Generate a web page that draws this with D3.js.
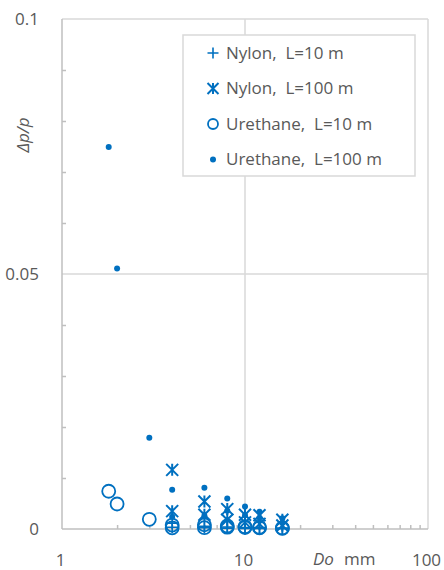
<!DOCTYPE html>
<html lang="en">
<head>
<meta charset="utf-8">
<title>Pressure loss vs tube diameter</title>
<script src="https://cdn.jsdelivr.net/npm/d3@7"></script>
<style>
  body { margin: 0; background: #fff; }
  svg text { font-family: "Open Sans", "Noto Sans", sans-serif; fill: #595959; white-space: pre; }
</style>
</head>
<body>
<svg id="chart" width="444" height="570"></svg>
<script>
// outer diameters, mm
var nylonDo = [4, 4, 6, 6, 8, 8, 10, 10, 12, 12, 16, 16];
var nylon10 = [0.00116, 0.00035, 0.00054, 0.00027, 0.00039, 0.00018, 0.00028, 0.00013, 0.00027, 0.0001, 0.00018, 0.00007];
var nylon100 = [0.0116, 0.0035, 0.0054, 0.0028, 0.0039, 0.0018, 0.0028, 0.0013, 0.0027, 0.0010, 0.0018, 0.0007];

var urethaneDo = [1.8, 2, 3, 4, 4, 6, 6, 8, 8, 10, 10, 12, 12, 16, 16];
var urethane10 = [0.0074, 0.0049, 0.0019, 0.00077, 0.00024, 0.00081, 0.00026, 0.0006, 0.00036, 0.00044, 0.00027, 0.00034, 0.00022, 0.00021, 0.00012];
var urethane100 = [0.0749, 0.0511, 0.0179, 0.0077, 0.0024, 0.0081, 0.0026, 0.0060, 0.0036, 0.0044, 0.0027, 0.0034, 0.0022, 0.0021, 0.0012];

var xMajor = [1, 10, 100];
var xMinor = [2, 3, 4, 5, 6, 7, 8, 9, 20, 30, 40, 50, 60, 70, 80, 90];
var yMajor = [0, 0.05, 0.1];
var yMinor = [0.01, 0.02, 0.03, 0.04, 0.06, 0.07, 0.08, 0.09];
var seriesNames = ['Nylon,  L=10 m', 'Nylon,  L=100 m', 'Urethane,  L=10 m', 'Urethane,  L=100 m'];

var blue = '#0070C0';
var margin = {top: 19, right: 16, bottom: 41, left: 62};
var svg = d3.select('#chart');
var W = 444 - margin.left - margin.right, H = 570 - margin.top - margin.bottom;
var g = svg.append('g').attr('transform', 'translate(' + margin.left + ',' + margin.top + ')');

var x = d3.scaleLog().domain([1, 100]).range([0, W]);
var y = d3.scaleLinear().domain([0, 0.1]).range([H, 0]);

// gridlines
g.append('g').selectAll('line').data(yMajor.slice(1)).join('line')
  .attr('x1', 0).attr('x2', W).attr('y1', y).attr('y2', y)
  .attr('stroke', '#d9d9d9').attr('stroke-width', 1.5);
g.append('g').selectAll('line').data(xMajor.slice(1)).join('line')
  .attr('x1', x).attr('x2', x).attr('y1', 0).attr('y2', H)
  .attr('stroke', '#d9d9d9').attr('stroke-width', 1.5);

// minor ticks (inside)
g.append('g').attr('transform', 'translate(0,' + H + ')')
  .call(d3.axisBottom(x).tickValues(xMinor).tickSize(-4).tickFormat(''))
  .call(function(a) { a.select('.domain').remove(); a.selectAll('line').attr('stroke', '#bfbfbf').attr('stroke-width', 1.5); });
g.append('g')
  .call(d3.axisLeft(y).tickValues(yMinor).tickSize(-4).tickFormat(''))
  .call(function(a) { a.select('.domain').remove(); a.selectAll('line').attr('stroke', '#bfbfbf').attr('stroke-width', 1.5); });

// axis lines
g.append('line').attr('x1', 0).attr('x2', W).attr('y1', H).attr('y2', H).attr('stroke', '#bfbfbf').attr('stroke-width', 1.5);
g.append('line').attr('x1', 0).attr('x2', 0).attr('y1', 0).attr('y2', H).attr('stroke', '#bfbfbf').attr('stroke-width', 1.5);

// tick labels
g.append('g').attr('transform', 'translate(-20,0)')
  .call(d3.axisLeft(y).tickValues(yMajor).tickSize(0).tickFormat(function(d) { return d === 0 ? '0' : String(d); }))
  .call(function(a) { a.select('.domain').remove(); a.selectAll('text').attr('font-size', 17).attr('fill', '#595959').attr('font-family', null); });
g.append('g').attr('transform', 'translate(0,' + (H + 22) + ')')
  .call(d3.axisBottom(x).tickValues(xMajor).tickSize(0).tickFormat(d3.format('d')))
  .call(function(a) { a.select('.domain').remove(); a.selectAll('text').attr('font-size', 17).attr('fill', '#595959').attr('font-family', null).attr('dx', -2); });

// axis titles
svg.append('text').attr('transform', 'translate(29,135) rotate(-90)')
  .attr('text-anchor', 'middle').attr('font-size', 17).attr('font-style', 'italic').text('\u0394p/p');
var xt = svg.append('text').attr('x', 313).attr('y', 565).attr('font-size', 17);
xt.append('tspan').attr('font-style', 'italic').text('Do');
xt.append('tspan').attr('dx', 10).text('mm');

// markers
function plus(sel, s) {
  sel.append('path').attr('d', 'M' + (-s) + ',0H' + s + 'M0,' + (-s) + 'V' + s)
    .attr('stroke', blue).attr('stroke-width', 1.6).attr('fill', 'none');
}
function star(sel, s) {
  sel.append('path').attr('d', 'M' + (-s) + ',' + (-s) + 'L' + s + ',' + s + 'M' + s + ',' + (-s) + 'L' + (-s) + ',' + s + 'M0,' + (-s) + 'V' + s)
    .attr('stroke', blue).attr('stroke-width', 2).attr('fill', 'none');
}
function ring(sel, r) {
  sel.append('circle').attr('r', r).attr('fill', 'none').attr('stroke', blue).attr('stroke-width', 1.8);
}
function dot(sel, r) {
  sel.append('circle').attr('r', r).attr('fill', blue);
}

function series(xs, ys, draw, size) {
  g.append('g').selectAll('g').data(xs.map(function(d, i) { return [d, ys[i]]; })).join('g')
    .attr('transform', function(d) { return 'translate(' + x(d[0]) + ',' + y(d[1]) + ')'; })
    .each(function() { draw(d3.select(this), size); });
}
series(nylonDo, nylon10, plus, 6);
series(nylonDo, nylon100, star, 6);
series(urethaneDo, urethane10, ring, 6.5);
series(urethaneDo, urethane100, dot, 3);

// legend
var lg = svg.append('g').attr('transform', 'translate(183,35)');
lg.append('rect').attr('width', 232).attr('height', 141).attr('fill', '#fff').attr('stroke', '#d9d9d9').attr('stroke-width', 1.5);
var markers = [[plus, 5.5], [star, 5.5], [ring, 5], [dot, 3]];
seriesNames.forEach(function(name, i) {
  var row = lg.append('g').attr('transform', 'translate(0,' + (18 + i * 35.5) + ')');
  markers[i][0](row.append('g').attr('transform', 'translate(30,0)'), markers[i][1]);
  row.append('text').attr('x', 43).attr('dy', '0.35em').attr('font-size', 17).text(name);
});
</script>
</body>
</html>
